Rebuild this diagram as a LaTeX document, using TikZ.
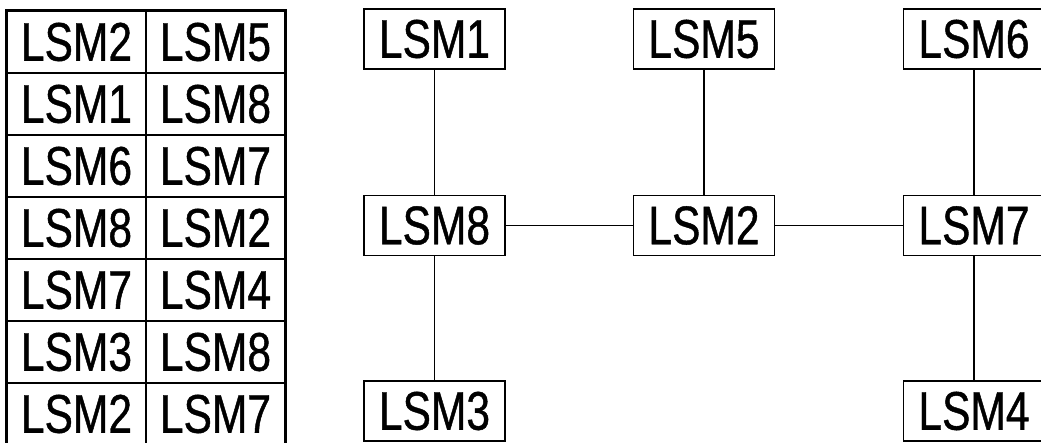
\documentclass[tikz,border=0pt]{standalone}
\usepackage{fontspec}
\newfontfamily\lsmfont[FakeStretch=0.78,FakeBold=0.8]{Liberation Sans}
\begin{document}
\begin{tikzpicture}[x=1pt,y=-1pt,
  lbl/.style={font=\lsmfont\fontsize{54.5}{60}\selectfont, inner sep=0pt},
  lsmbox/.style={lbl, draw, line width=1.8pt, minimum width=141pt, minimum height=60pt},
  cell/.style={lbl, draw, line width=1.6pt, minimum width=139pt, minimum height=62pt},
  link/.style={line width=1.8pt}]
\useasboundingbox (0,0) rectangle (1041,443);
\clip (0,0) rectangle (1041,443);
% assignment table
\foreach \r/\a/\b in {1/LSM2/LSM5, 2/LSM1/LSM8, 3/LSM6/LSM7, 4/LSM8/LSM2,
                      5/LSM7/LSM4, 6/LSM3/LSM8, 7/LSM2/LSM7} {
  \node[cell] (c\r a) at (76.5, {11 + 62*\r - 31}) {\a};
  \node[cell] (c\r b) at (215.5, {11 + 62*\r - 31}) {\b};
}
\draw[line width=3pt] (c1a.north west) rectangle (c7b.south east);
% network
\node[lsmbox] (n1) at (434.5, 39) {LSM1};
\node[lsmbox] (n5) at (704, 39) {LSM5};
\node[lsmbox] (n6) at (974, 39) {LSM6};
\node[lsmbox] (n8) at (434.5, 225.5) {LSM8};
\node[lsmbox] (n2) at (704, 225.5) {LSM2};
\node[lsmbox] (n7) at (974, 225.5) {LSM7};
\node[lsmbox] (n3) at (434.5, 411) {LSM3};
\node[lsmbox] (n4) at (974, 411) {LSM4};
\draw[link] (n1) -- (n8);
\draw[link] (n8) -- (n3);
\draw[link] (n5) -- (n2);
\draw[link] (n6) -- (n7);
\draw[link] (n7) -- (n4);
\draw[link] (n8) -- (n2);
\draw[link] (n2) -- (n7);
\end{tikzpicture}
\end{document}
